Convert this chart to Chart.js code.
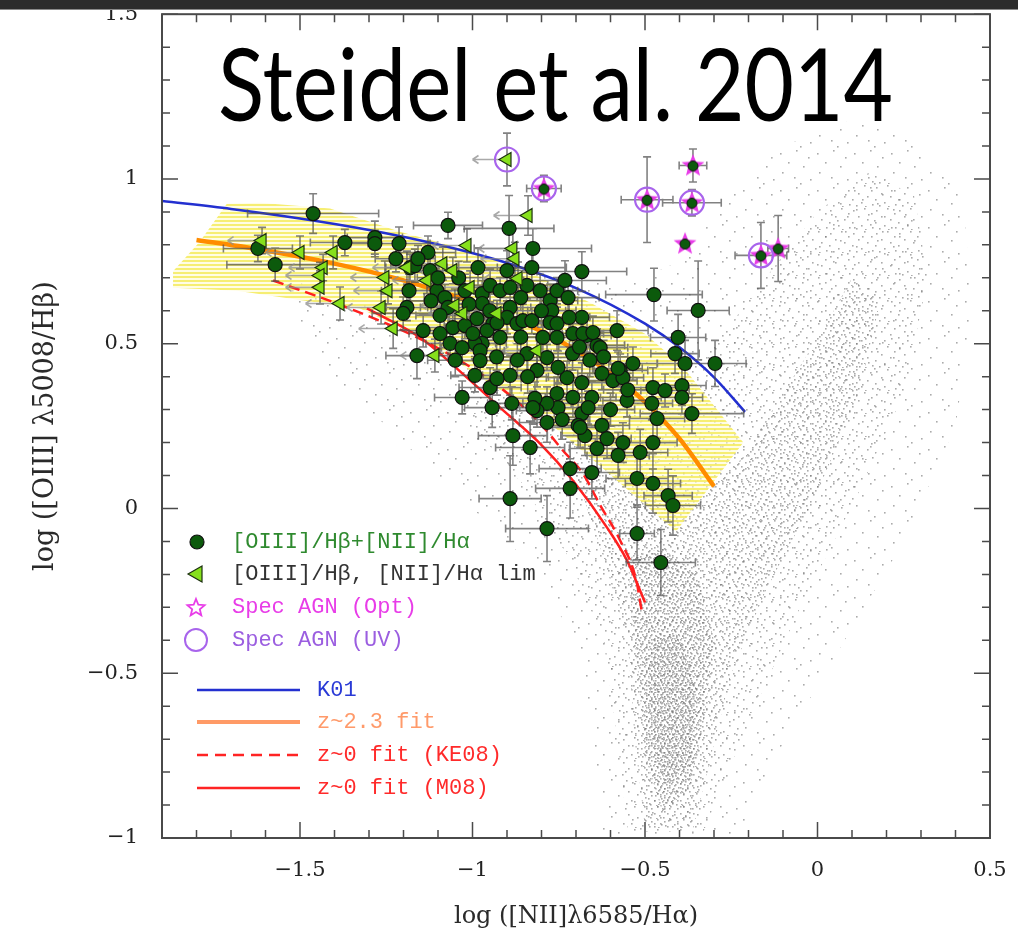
<!DOCTYPE html>
<html>
<head>
<meta charset="utf-8">
<title>BPT diagram</title>
<script src="https://cdn.jsdelivr.net/npm/chart.js@4.4.1/dist/chart.umd.min.js"></script>
<style>
  html, body { margin: 0; padding: 0; background: #fff; }
  #wrap { position: relative; width: 1018px; height: 931px; overflow: hidden; }
  #bpt { position: absolute; left: 0; top: 0; }
  #topbar { position: absolute; left: 0; top: 0; width: 1018px; height: 9px; background: #2c2c2c; border-bottom: 1px solid #8a8a8a; }
</style>
</head>
<body>
<div id="wrap">
  <canvas id="bpt" width="1018" height="931"></canvas>
  <div id="topbar"></div>
</div>
<script>
// axis ticks
const xTickValues = [-1.5, -1, -0.5, 0, 0.5];
const yTickValues = [-1, -0.5, 0, 0.5, 1, 1.5];

// z~2.3 galaxies with both lines detected
const detX = [-1.462,-1.622,-1.572,-1.370,-1.283,-1.283,-1.213,-1.222,-1.181,-1.184,
  -1.190,-1.201,-1.161,-1.071,-0.894,-0.825,-0.683,-1.129,-0.984,-1.123,
  -1.167,-1.158,-1.103,-1.080,-1.071,-1.094,-1.022,-0.972,-0.972,-0.949,
  -0.920,-0.891,-0.900,-0.842,-0.804,-0.775,-0.755,-0.723,-0.828,-0.732,
  -0.683,-0.770,-0.775,-0.755,-0.581,-0.639,-0.668,-0.709,-0.796,-0.842,
  -0.891,-0.900,-0.871,-0.854,-0.828,-0.941,-0.920,-0.958,-0.987,-0.972,
  -0.993,-1.057,-1.022,-1.094,-1.065,-1.030,-1.143,-0.978,-0.474,-0.346,
  -0.404,-0.413,-0.384,-0.297,-0.364,-0.393,-0.393,-0.477,-0.442,-0.480,
  -0.465,-0.535,-0.630,-0.680,-0.651,-0.572,-0.593,-0.564,-0.625,-0.683,
  -0.726,-0.752,-0.784,-0.813,-0.755,-0.709,-0.654,-0.755,-0.683,-0.665,
  -0.694,-0.625,-0.610,-0.639,-0.674,-0.564,-0.578,-0.514,-0.477,-0.552,
  -0.752,-0.784,-0.813,-0.819,-0.891,-0.949,-0.943,-0.886,-1.030,-0.993,
  -0.978,-0.999,-0.883,-0.833,-0.784,-0.717,-0.654,-0.717,-0.523,-0.477,
  -0.433,-0.419,-0.891,-0.784,-0.523,-0.454,-0.929,-0.825,-0.578,-0.688,
  -0.929,-1.100,-1.040,-0.860,-0.800,-0.720,-0.620,-0.660,-0.710,-0.840,
  -0.870,-0.930,-1.050,-1.120,-0.600,-0.740,-0.550,-0.860,-1.010,-0.950,
  -0.690];
const detY = [0.895,0.789,0.740,0.807,0.822,0.804,0.804,0.758,0.731,0.661,
  0.610,0.592,0.464,0.859,0.850,0.789,0.719,0.777,0.731,0.722,
  0.737,0.758,0.661,0.640,0.610,0.586,0.661,0.652,0.622,0.677,
  0.661,0.671,0.722,0.677,0.661,0.631,0.661,0.640,0.731,0.692,
  0.580,0.601,0.564,0.561,0.540,0.495,0.525,0.531,0.519,0.470,
  0.610,0.580,0.561,0.570,0.570,0.561,0.519,0.540,0.576,0.501,
  0.501,0.549,0.555,0.531,0.501,0.488,0.540,0.479,0.649,0.601,
  0.519,0.470,0.440,0.440,0.288,0.373,0.337,0.367,0.358,0.319,
  0.273,0.440,0.488,0.531,0.534,0.419,0.388,0.397,0.410,0.382,
  0.397,0.428,0.458,0.419,0.519,0.337,0.337,0.349,0.288,0.306,
  0.252,0.252,0.212,0.182,0.221,0.200,0.161,0.170,0.200,0.328,
  0.306,0.319,0.297,0.334,0.404,0.367,0.306,0.319,0.337,0.404,
  0.449,0.531,0.221,0.185,0.261,0.121,0.109,0.061,0.091,0.076,
  0.039,0.009,0.030,-0.061,-0.076,-0.164,0.394,0.306,0.425,0.246,
  0.564,0.700,0.700,0.640,0.600,0.580,0.460,0.450,0.470,0.400,
  0.450,0.460,0.450,0.630,0.300,0.270,0.360,0.520,0.620,0.600,
  0.490];
const detXErr = [0.19,0.10,0.14,0.10,0.08,0.07,0.09,0.06,0.07,0.08,
  0.06,0.09,0.09,0.10,0.13,0.17,0.13,0.08,0.09,0.06,
  0.07,0.05,0.07,0.06,0.08,0.07,0.08,0.06,0.07,0.09,
  0.06,0.07,0.08,0.06,0.07,0.08,0.06,0.09,0.10,0.12,
  0.08,0.07,0.06,0.07,0.09,0.08,0.07,0.06,0.08,0.07,
  0.06,0.07,0.06,0.07,0.05,0.06,0.07,0.06,0.08,0.07,
  0.06,0.08,0.06,0.09,0.07,0.06,0.08,0.07,0.14,0.09,
  0.08,0.07,0.08,0.09,0.15,0.07,0.06,0.08,0.07,0.06,
  0.08,0.07,0.08,0.06,0.07,0.08,0.07,0.06,0.07,0.08,
  0.06,0.07,0.06,0.07,0.06,0.08,0.07,0.06,0.08,0.07,
  0.09,0.08,0.07,0.08,0.07,0.08,0.09,0.08,0.07,0.07,
  0.08,0.07,0.06,0.07,0.08,0.09,0.08,0.07,0.08,0.07,
  0.06,0.06,0.10,0.10,0.08,0.09,0.08,0.10,0.09,0.08,
  0.07,0.08,0.09,0.12,0.05,0.10,0.07,0.06,0.07,0.08,
  0.06,0.06,0.07,0.06,0.07,0.06,0.07,0.06,0.07,0.06,
  0.07,0.06,0.08,0.06,0.07,0.08,0.07,0.06,0.06,0.07,
  0.06];
const detYErr = [0.06,0.04,0.05,0.04,0.05,0.04,0.05,0.04,0.04,0.05,
  0.04,0.05,0.07,0.04,0.10,0.06,0.06,0.05,0.06,0.04,
  0.05,0.04,0.05,0.04,0.05,0.04,0.05,0.04,0.05,0.05,
  0.04,0.05,0.06,0.04,0.05,0.05,0.04,0.06,0.05,0.06,
  0.06,0.05,0.04,0.05,0.06,0.05,0.05,0.04,0.05,0.06,
  0.04,0.05,0.04,0.05,0.04,0.05,0.05,0.04,0.05,0.05,
  0.04,0.05,0.04,0.06,0.05,0.05,0.05,0.05,0.08,0.15,
  0.07,0.06,0.07,0.07,0.06,0.06,0.05,0.06,0.05,0.05,
  0.06,0.05,0.05,0.04,0.05,0.05,0.05,0.04,0.05,0.06,
  0.05,0.05,0.04,0.05,0.04,0.06,0.05,0.05,0.06,0.05,
  0.07,0.06,0.06,0.07,0.06,0.06,0.07,0.07,0.08,0.05,
  0.06,0.05,0.05,0.05,0.06,0.06,0.06,0.05,0.05,0.05,
  0.05,0.04,0.09,0.08,0.06,0.08,0.08,0.09,0.08,0.09,
  0.08,0.09,0.13,0.10,0.08,0.10,0.05,0.05,0.05,0.06,
  0.04,0.04,0.05,0.04,0.05,0.04,0.05,0.05,0.05,0.05,
  0.05,0.04,0.05,0.04,0.05,0.06,0.05,0.04,0.04,0.05,
  0.04];

// [OIII]/Hb detected, [NII]/Ha upper limit
const limX = [-1.610,-1.500,-1.404,-1.433,-1.442,-1.442,-1.384,-1.254,-1.245,-1.265,
  -1.190,-1.230,-0.839,-1.016,-0.883,-0.877,-1.057,-1.086,-1.132,-0.868,
  -1.028,-1.051,-0.929,-1.007,-0.813,-1.109,-0.900];
const limY = [0.813,0.777,0.777,0.731,0.707,0.671,0.622,0.701,0.661,0.610,
  0.731,0.546,0.889,0.798,0.789,0.758,0.722,0.743,0.692,0.698,
  0.592,0.616,0.592,0.671,0.479,0.464,1.059];
const limYErr = [0.04,0.05,0.05,0.04,0.04,0.05,0.05,0.05,0.04,0.05,
  0.05,0.06,0.06,0.05,0.06,0.05,0.04,0.05,0.04,0.05,
  0.04,0.05,0.04,0.05,0.05,0.05,0.08];

// spectroscopic AGN
const optAgnX = [-0.793,-0.494,-0.364,-0.361,-0.384,-0.164,-0.114];
const optAgnY = [0.971,0.937,0.928,1.041,0.804,0.768,0.789];
const optAgnXErr = [0.05,0.075,0.085,0.04,0,0.075,0.03];
const optAgnYErr = [0.04,0.13,0.04,0.05,0,0.10,0.10];
const uvAgnX = [-0.900,-0.793,-0.494,-0.364,-0.164];
const uvAgnY = [1.059,0.971,0.937,0.928,0.768];

// reference curves
const k01X = [-1.9,-1.7,-1.5,-1.3,-1.1,-0.9,-0.7,-0.5,-0.4,-0.3,-0.21];
const k01Y = [0.933,0.909,0.880,0.845,0.801,0.745,0.669,0.561,0.489,0.398,0.293];
const fitX = [-1.8,-1.6,-1.4,-1.2,-1.0,-0.9,-0.8,-0.7,-0.6,-0.5,-0.4,-0.3];
const fitY = [0.815,0.783,0.743,0.692,0.626,0.585,0.537,0.480,0.410,0.323,0.212,0.067];
const ke08X = [-1.578,-1.364,-1.115,-0.920,-0.804,-0.738,-0.680,-0.630,-0.572,-0.526,-0.508];
const ke08Y = [0.692,0.610,0.495,0.367,0.258,0.176,0.106,0.010,-0.097,-0.215,-0.320];
const m08X = [-1.306,-1.152,-1.016,-0.920,-0.804,-0.709,-0.610,-0.552,-0.500];
const m08Y = [0.607,0.519,0.397,0.306,0.197,0.085,-0.058,-0.158,-0.285];

// scatter band around the z~2.3 fit
const bandOutline = [[-1.868,0.67],[-1.868,0.72],[-1.79,0.81],[-1.712,0.925],[-1.616,0.928],
  [-1.413,0.91],[-1.21,0.84],[-1.0,0.78],[-0.8,0.70],[-0.65,0.62],[-0.5,0.53],[-0.39,0.43],
  [-0.215,0.20],[-0.41,-0.07],[-0.62,0.12],[-0.80,0.28],[-0.98,0.40],[-1.15,0.52],
  [-1.326,0.607],[-1.491,0.631],[-1.683,0.661],[-1.868,0.67]];

// SDSS density contours (outer to inner)
const sdssSparse = [[-1.55,0.70],[-1.30,0.62],[-1.05,0.62],[-0.80,0.72],[-0.55,0.68],[-0.40,0.75],
  [-0.25,0.95],[-0.10,1.10],[0.10,1.18],[0.28,1.12],[0.42,0.95],[0.45,0.60],[0.40,0.25],
  [0.25,-0.10],[0.05,-0.45],[-0.12,-0.75],[-0.22,-1.00],[-0.62,-1.00],[-0.65,-0.70],
  [-0.70,-0.40],[-0.85,-0.15],[-1.05,0.05],[-1.25,0.25],[-1.45,0.45],[-1.55,0.70]];
const sdssMedium = [[-1.00,0.40],[-0.85,0.35],[-0.65,0.30],[-0.50,0.35],[-0.38,0.42],[-0.28,0.52],
  [-0.15,0.70],[0.00,0.90],[0.15,1.02],[0.28,0.95],[0.32,0.70],[0.25,0.35],[0.12,0.05],
  [-0.05,-0.30],[-0.18,-0.60],[-0.28,-0.85],[-0.33,-0.98],[-0.55,-0.98],[-0.58,-0.70],
  [-0.62,-0.40],[-0.72,-0.15],[-0.86,0.08],[-1.00,0.25],[-1.00,0.40]];
const sdssDense = [[-0.70,0.10],[-0.58,0.12],[-0.45,0.08],[-0.33,0.05],[-0.22,0.15],[-0.10,0.35],
  [0.02,0.55],[0.10,0.70],[0.18,0.62],[0.12,0.35],[0.00,0.05],[-0.15,-0.25],[-0.25,-0.50],
  [-0.32,-0.80],[-0.36,-0.97],[-0.50,-0.97],[-0.53,-0.70],[-0.55,-0.40],[-0.62,-0.15],[-0.70,0.10]];
const sdssCore = [[-0.55,-0.15],[-0.45,-0.12],[-0.35,-0.20],[-0.30,-0.40],[-0.33,-0.65],
  [-0.37,-0.85],[-0.45,-0.92],[-0.50,-0.75],[-0.52,-0.50],[-0.54,-0.30],[-0.55,-0.15]];
const sdssPeak = [[-0.48,-0.40],[-0.40,-0.38],[-0.35,-0.55],[-0.37,-0.78],[-0.44,-0.84],
  [-0.48,-0.70],[-0.49,-0.52],[-0.48,-0.40]];

const legendMarkerLabels = ['[OIII]/H\u03b2+[NII]/H\u03b1', '[OIII]/H\u03b2, [NII]/H\u03b1 lim', 'Spec AGN (Opt)', 'Spec AGN (UV)'];
const legendLineLabels = ['K01', 'z~2.3 fit', 'z~0 fit (KE08)', 'z~0 fit (M08)'];

const GREEN = '#0c5a0c';
const LIME = '#86e01c';
const MAGENTA = '#e83ce8';
const PURPLE = '#a864ec';

const pts = (xs, ys) => xs.map((x, i) => ({ x, y: ys[i] }));
const poly = arr => arr.map(([x, y]) => ({ x, y }));
const minus = v => String(v).replace('-', '\u2212');

function dotPattern(size, dots, color, r) {
  const c = document.createElement('canvas');
  c.width = c.height = size;
  const g = c.getContext('2d');
  g.fillStyle = color;
  dots.forEach(([x, y]) => g.fillRect(x, y, r, r));
  return g.createPattern(c, 'repeat');
}

function stripePattern() {
  const c = document.createElement('canvas');
  c.width = 4; c.height = 4;
  const g = c.getContext('2d');
  g.fillStyle = 'rgba(245,236,100,0.9)';
  g.fillRect(0, 0, 4, 2);
  g.fillStyle = 'rgba(255,252,205,0.55)';
  g.fillRect(0, 2, 4, 2);
  return g.createPattern(c, 'repeat');
}

function starPath(ctx, cx, cy, R, r) {
  ctx.beginPath();
  for (let k = 0; k < 10; k++) {
    const a = -Math.PI / 2 + k * Math.PI / 5;
    const rad = k % 2 ? r : R;
    ctx.lineTo(cx + rad * Math.cos(a), cy + rad * Math.sin(a));
  }
  ctx.closePath();
}

function starImage() {
  const c = document.createElement('canvas');
  c.width = c.height = 28;
  const g = c.getContext('2d');
  starPath(g, 14, 14.5, 12, 5.2);
  g.fillStyle = MAGENTA;
  g.fill();
  g.beginPath();
  g.arc(14, 14.5, 5, 0, Math.PI * 2);
  g.fillStyle = GREEN;
  g.fill();
  g.strokeStyle = '#111';
  g.lineWidth = 1;
  g.stroke();
  return c;
}

const speck = 'rgba(115,115,115,0.6)';
const sparseFill = dotPattern(37, [[3,5],[19,2],[31,9],[11,14],[26,18],[5,24],[17,29],[33,31],[23,35]], speck, 1.6);
const mediumFill = dotPattern(23, [[2,3],[13,1],[20,6],[7,9],[16,12],[1,15],[10,18],[21,20],[5,21],[14,22]], speck, 1.6);
const denseFill = dotPattern(13, [[1,2],[7,0],[11,5],[4,7],[9,9],[0,11],[6,12]], speck, 1.6);
const coreFill = dotPattern(9, [[0,1],[5,0],[3,4],[7,5],[1,7],[6,8]], speck, 1.6);
const peakFill = dotPattern(7, [[2,1],[6,3],[0,5],[4,6],[3,3]], 'rgba(120,120,120,0.5)', 1.6);

function area(data, fillStyle) {
  return { type: 'line', data: poly(data), fill: 'shape', backgroundColor: fillStyle,
    borderColor: 'rgba(0,0,0,0)', borderWidth: 0, pointRadius: 0, tension: 0 };
}
function curve(xs, ys, color, width, dash) {
  return { type: 'line', data: pts(xs, ys), borderColor: color, borderWidth: width,
    borderDash: dash || [], pointRadius: 0, fill: false, cubicInterpolationMode: 'monotone' };
}

// error bars and limit arrows, drawn just before the detections
const errorBars = {
  id: 'errorBars',
  beforeDatasetDraw(chart, args) {
    if (args.index !== 3) return;
    const { ctx, chartArea: a, scales: { x, y } } = chart;
    ctx.save();
    ctx.beginPath();
    ctx.rect(a.left, a.top, a.right - a.left, a.bottom - a.top);
    ctx.clip();
    const cap = 4;
    const seg = (x0, y0, x1, y1) => { ctx.moveTo(x0, y0); ctx.lineTo(x1, y1); };
    const bars = (xs, ys, xe, ye) => {
      ctx.beginPath();
      xs.forEach((v, i) => {
        const px = x.getPixelForValue(v), py = y.getPixelForValue(ys[i]);
        if (xe && xe[i] > 0) {
          const l = x.getPixelForValue(v - xe[i]), r = x.getPixelForValue(v + xe[i]);
          seg(l, py, r, py); seg(l, py - cap, l, py + cap); seg(r, py - cap, r, py + cap);
        }
        if (ye && ye[i] > 0) {
          const t = y.getPixelForValue(ys[i] + ye[i]), b = y.getPixelForValue(ys[i] - ye[i]);
          seg(px, t, px, b); seg(px - cap, t, px + cap, t); seg(px - cap, b, px + cap, b);
        }
      });
      ctx.stroke();
    };
    ctx.strokeStyle = 'rgba(80,80,80,0.72)';
    ctx.lineWidth = 1.6;
    bars(detX, detY, detXErr, detYErr);
    bars(optAgnX, optAgnY, optAgnXErr, optAgnYErr);
    bars(limX, limY, null, limYErr);
    // upper limits on [NII]/Ha
    ctx.strokeStyle = 'rgba(140,140,140,0.75)';
    ctx.beginPath();
    limX.forEach((v, i) => {
      const px = x.getPixelForValue(v), py = y.getPixelForValue(limY[i]);
      const tip = x.getPixelForValue(v - 0.1);
      seg(px, py, tip, py); seg(tip, py, tip + 6, py - 4); seg(tip, py, tip + 6, py + 4);
    });
    ctx.stroke();
    ctx.restore();
  }
};

// frame with inward ticks, in-plot legend and the slide title
const decorations = {
  id: 'decorations',
  afterDraw(chart) {
    const { ctx, chartArea: a, scales: { x, y } } = chart;
    ctx.save();
    ctx.strokeStyle = '#4a4a4a';
    ctx.lineWidth = 2;
    ctx.strokeRect(a.left, a.top, a.right - a.left, a.bottom - a.top);
    ctx.lineWidth = 1.5;
    ctx.beginPath();
    for (let i = -19; i <= 5; i++) {
      const px = x.getPixelForValue(i / 10), len = i % 5 === 0 ? 16 : 8;
      ctx.moveTo(px, a.bottom); ctx.lineTo(px, a.bottom - len);
      ctx.moveTo(px, a.top); ctx.lineTo(px, a.top + len);
    }
    for (let i = -10; i <= 15; i++) {
      const py = y.getPixelForValue(i / 10), len = i % 5 === 0 ? 16 : 8;
      ctx.moveTo(a.left, py); ctx.lineTo(a.left + len, py);
      ctx.moveTo(a.right, py); ctx.lineTo(a.right - len, py);
    }
    ctx.stroke();

    // legend: markers
    const mx = 196, tx = 232, rows = [542, 574, 607, 640];
    ctx.font = '22px "Liberation Mono", monospace';
    ctx.textBaseline = 'middle';
    ctx.beginPath();
    ctx.arc(mx + 1, rows[0], 7, 0, Math.PI * 2);
    ctx.fillStyle = GREEN; ctx.fill();
    ctx.strokeStyle = '#111'; ctx.lineWidth = 1.2; ctx.stroke();
    ctx.beginPath();
    ctx.moveTo(mx - 8, rows[1]); ctx.lineTo(mx + 6, rows[1] - 8); ctx.lineTo(mx + 6, rows[1] + 8); ctx.closePath();
    ctx.fillStyle = LIME; ctx.fill(); ctx.strokeStyle = '#1c3010'; ctx.stroke();
    starPath(ctx, mx, rows[2] + 1, 9, 4);
    ctx.strokeStyle = MAGENTA; ctx.lineWidth = 1.8; ctx.stroke();
    ctx.beginPath();
    ctx.arc(mx, rows[3], 11, 0, Math.PI * 2);
    ctx.strokeStyle = PURPLE; ctx.lineWidth = 2; ctx.stroke();
    const markerColors = ['#2f8a2f', '#333333', MAGENTA, '#9b5ee0'];
    legendMarkerLabels.forEach((t, i) => { ctx.fillStyle = markerColors[i]; ctx.fillText(t, tx, rows[i]); });

    // legend: curves
    const lineRows = [690, 722, 755, 788];
    const lineColors = ['#2330d0', '#ff9a66', '#ff2424', '#ff2424'];
    const textColors = ['#2a3ad6', '#ff9a6a', '#ff2a2a', '#ff2a2a'];
    lineRows.forEach((py, i) => {
      ctx.beginPath();
      ctx.setLineDash(i === 2 ? [11, 7] : []);
      ctx.lineWidth = i === 1 ? 4 : 2.5;
      ctx.strokeStyle = lineColors[i];
      ctx.moveTo(197, py); ctx.lineTo(300, py);
      ctx.stroke();
      ctx.fillStyle = textColors[i];
      ctx.fillText(legendLineLabels[i], 317, py);
    });
    ctx.setLineDash([]);

    // slide title
    ctx.font = '100px Lato, "Open Sans", sans-serif';
    ctx.textBaseline = 'alphabetic';
    ctx.fillStyle = '#000';
    const title = 'Steidel et al. 2014';
    const w = ctx.measureText(title).width;
    ctx.translate(218, 121);
    ctx.scale(675 / w, 1);
    ctx.fillText(title, 0, 0);
    ctx.restore();
  }
};

const tickFont = { family: '"DejaVu Serif", serif', size: 21 };

new Chart(document.getElementById('bpt'), {
  type: 'scatter',
  data: {
    datasets: [
      { label: 'Spec AGN (UV)', data: pts(uvAgnX, uvAgnY), pointStyle: 'circle', pointRadius: 12,
        backgroundColor: 'rgba(0,0,0,0)', borderColor: PURPLE, borderWidth: 2.2 },
      { label: 'Spec AGN (Opt)', data: pts(optAgnX, optAgnY), pointStyle: starImage() },
      { label: 'lim', data: pts(limX, limY), pointStyle: 'triangle', rotation: -90, pointRadius: 8,
        backgroundColor: LIME, borderColor: '#1c3010', borderWidth: 1.2 },
      { label: 'det', data: pts(detX, detY), pointStyle: 'circle', pointRadius: 7,
        backgroundColor: GREEN, borderColor: '#111', borderWidth: 1.2 },
      curve(k01X, k01Y, '#2330d0', 2.5),
      curve(fitX, fitY, '#ff8c00', 4.5),
      curve(ke08X, ke08Y, '#ff2020', 2.5, [11, 6]),
      curve(m08X, m08Y, '#ff2020', 2.5),
      area(bandOutline, stripePattern()),
      area(sdssPeak, peakFill),
      area(sdssCore, coreFill),
      area(sdssDense, denseFill),
      area(sdssMedium, mediumFill),
      area(sdssSparse, sparseFill)
    ]
  },
  options: {
    responsive: false,
    animation: false,
    devicePixelRatio: 1,
    events: [],
    layout: { padding: { left: 0, top: 14, right: 28, bottom: 0 } },
    plugins: { legend: { display: false }, tooltip: { enabled: false } },
    scales: {
      x: {
        type: 'linear', min: -1.9, max: 0.5,
        afterBuildTicks: s => { s.ticks = xTickValues.map(value => ({ value })); },
        afterFit: s => { s.height = 93; s.paddingLeft = 0; s.paddingRight = 0; },
        grid: { display: false }, border: { display: false },
        ticks: { callback: minus, font: tickFont, color: '#222', padding: 12, maxRotation: 0, autoSkip: false },
        title: { display: true, text: 'log ([NII]\u03bb6585/H\u03b1)', font: { family: '"DejaVu Serif", serif', size: 24 },
          color: '#2a2a2a', padding: { top: 0, bottom: 0 } }
      },
      y: {
        type: 'linear', min: -1, max: 1.5,
        afterBuildTicks: s => { s.ticks = yTickValues.map(value => ({ value })); },
        afterFit: s => { s.width = 162; s.paddingTop = 0; s.paddingBottom = 0; },
        grid: { display: false }, border: { display: false },
        ticks: { callback: minus, font: tickFont, color: '#222', padding: 16, autoSkip: false },
        title: { display: true, text: 'log ([OIII] \u03bb5008/H\u03b2)', font: { family: '"DejaVu Serif", serif', size: 27 },
          color: '#2a2a2a', padding: { top: 30, bottom: 0 } }
      }
    }
  },
  plugins: [errorBars, decorations]
});
</script>
</body>
</html>
